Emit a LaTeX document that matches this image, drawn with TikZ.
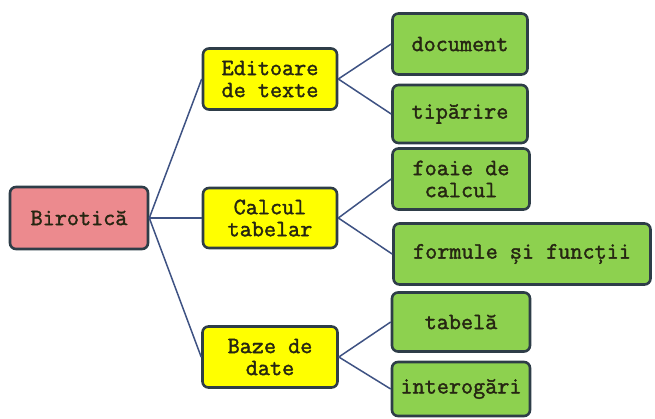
\documentclass[tikz,border=0pt]{standalone}
\usepackage{fontspec}
\newfontfamily\boxfont{Latin Modern Mono}[FakeBold=1.6]
\definecolor{pinkfill}{HTML}{EC8A8E}
\definecolor{yelfill}{HTML}{FFFF00}
\definecolor{grnfill}{HTML}{8DD14F}
\definecolor{edge}{HTML}{2E3D48}
\definecolor{link}{HTML}{3E5283}
\definecolor{txt}{HTML}{262612}
\begin{document}
\begin{tikzpicture}[x=1pt,y=-1pt,
  box/.style={draw=edge, line width=2.6pt, rounded corners=6pt, align=center,
    font=\boxfont\fontsize{23.5}{22}\selectfont, text=txt, inner sep=0pt},
  rootbox/.style={box, fill=pinkfill},
  midbox/.style={box, fill=yelfill},
  leafbox/.style={box, fill=grnfill},
  conn/.style={draw=link, line width=1.5pt}]
\useasboundingbox (0,0) rectangle (655,419);
\node[rootbox, minimum width=138pt, minimum height=62pt] (bir) at (79,218) {Birotică};
\node[midbox, minimum width=134pt, minimum height=61pt] (edit) at (270,79) {Editoare\\de texte};
\node[midbox, minimum width=134pt, minimum height=60pt] (calc) at (270,218) {Calcul\\tabelar};
\node[midbox, minimum width=135pt, minimum height=61pt] (baze) at (270,357) {Baze de\\date};
\node[leafbox, minimum width=135pt, minimum height=61pt] (doc) at (460,44) {document};
\node[leafbox, minimum width=135pt, minimum height=58pt] (tip) at (460,114) {tipărire};
\node[leafbox, minimum width=137pt, minimum height=61pt] (foaie) at (461,179) {foaie de\\calcul};
\node[leafbox, minimum width=257pt, minimum height=61pt] (form) at (522,254) {formule și funcții};
\node[leafbox, minimum width=138pt, minimum height=59pt] (tab) at (461,322) {tabelă};
\node[leafbox, minimum width=138pt, minimum height=54pt] (inter) at (461,389) {interogări};
\draw[conn] (bir.east) -- (edit.west);
\draw[conn] (bir.east) -- (calc.west);
\draw[conn] (bir.east) -- (baze.west);
\draw[conn] (edit.east) -- (doc.west);
\draw[conn] (edit.east) -- (tip.west);
\draw[conn] (calc.east) -- (foaie.west);
\draw[conn] (calc.east) -- (form.west);
\draw[conn] (baze.east) -- (tab.west);
\draw[conn] (baze.east) -- (inter.west);
\end{tikzpicture}
\end{document}
